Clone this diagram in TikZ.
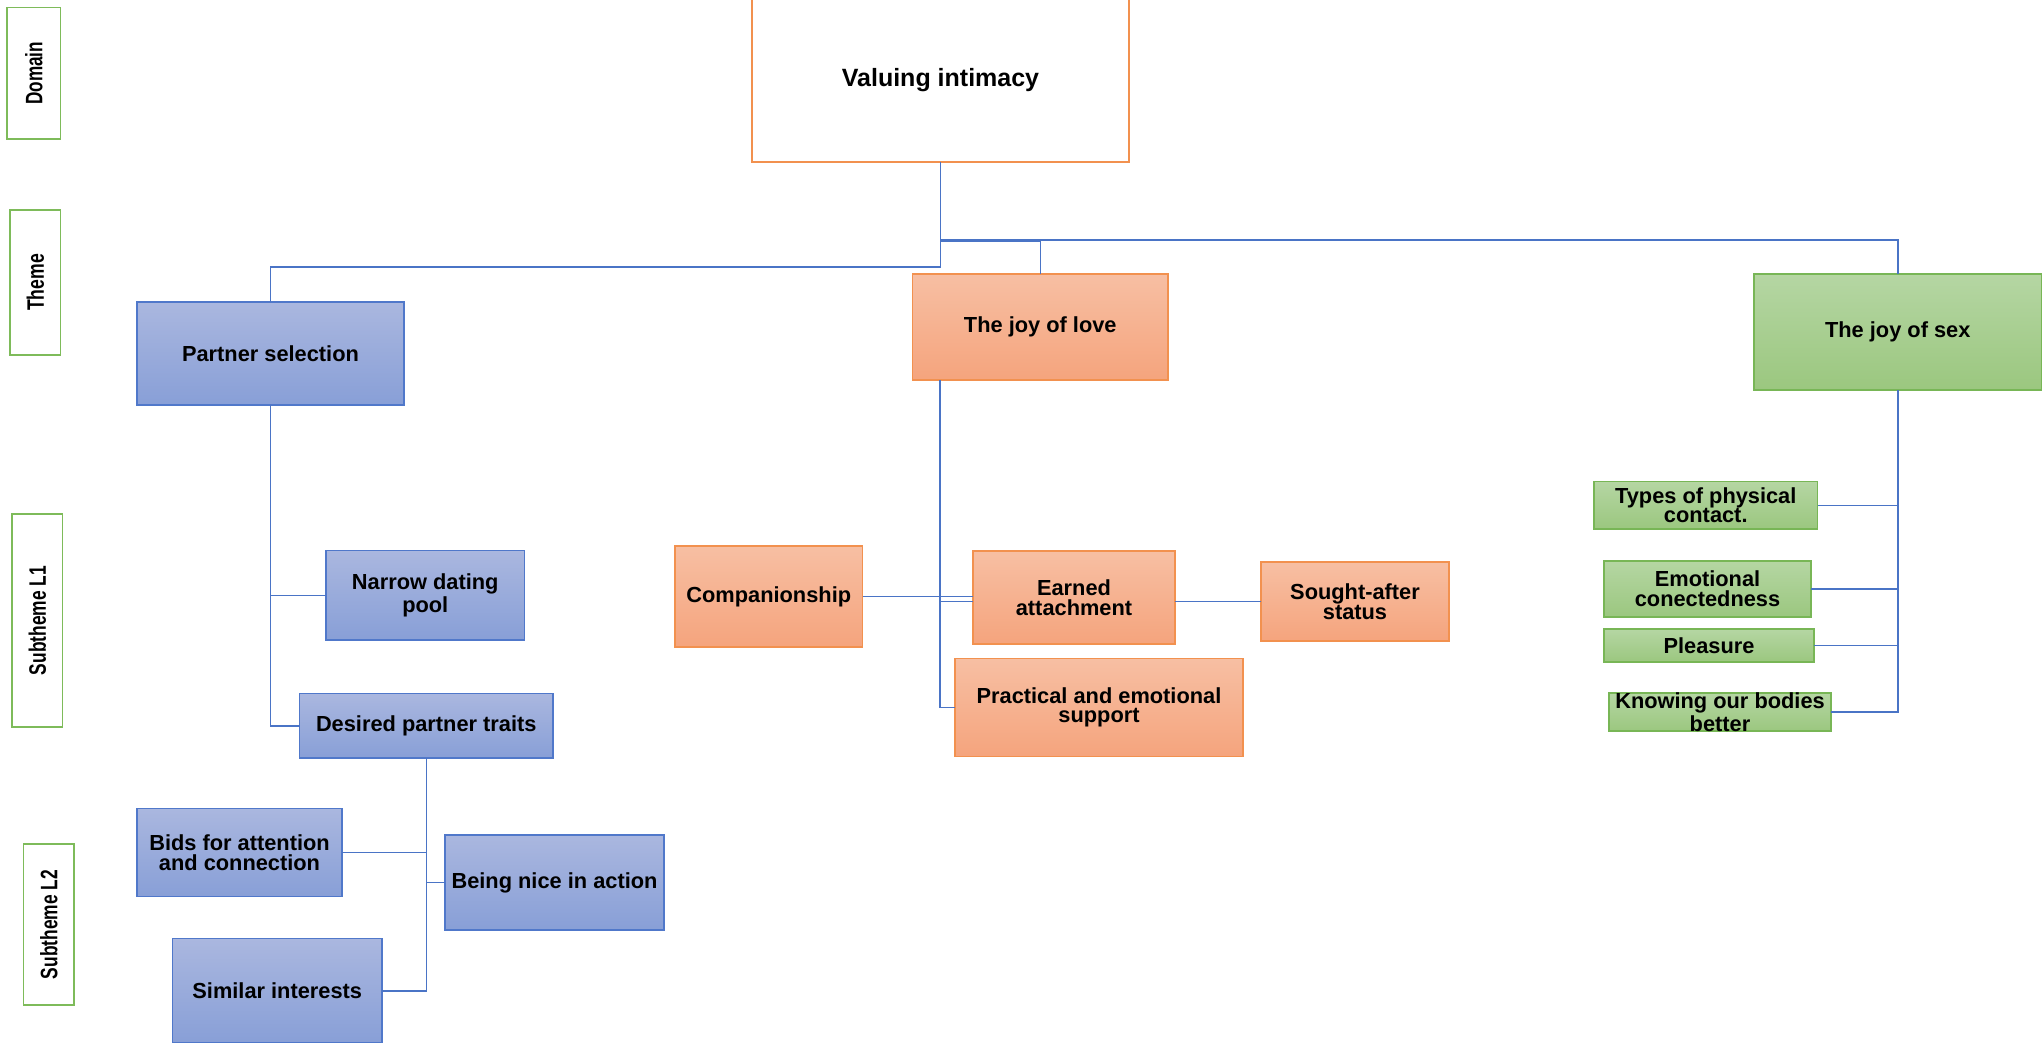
\documentclass[tikz,border=0pt]{standalone}
\usepackage{fontspec}
\setmainfont{Liberation Sans}
\usepackage{graphicx}
\usetikzlibrary{calc}

\definecolor{lineblue}{HTML}{4A74C6}
\definecolor{bluetop}{HTML}{AAB7DF}
\definecolor{bluebot}{HTML}{889FD7}
\definecolor{blueedge}{HTML}{5078CA}
\definecolor{orgtop}{HTML}{F7BFA3}
\definecolor{orgbot}{HTML}{F5A47D}
\definecolor{orgedge}{HTML}{F2914F}
\definecolor{grntop}{HTML}{B5D6A3}
\definecolor{grnbot}{HTML}{9BC77F}
\definecolor{grnedge}{HTML}{78B656}
\definecolor{lbledge}{HTML}{7EBB5A}

% box with corners (x1,y1)-(x2,y2) given in pixel units
\newcommand\bx[7]{%
  \node[#6, minimum width={(#4-#2)*0.5pt}, minimum height={(#5-#3)*0.5pt}]
    (#1) at ({(#2+#4)/2},{(#3+#5)/2}) {#7};}

\begin{document}
\begin{tikzpicture}[x=0.5pt,y=-0.5pt,
  basebox/.style={rectangle, inner sep=0pt, outer sep=0pt, line width=0.9pt,
    align=center, font=\fontsize{10.9pt}{9.8pt}\selectfont\bfseries},
  bluebox/.style={basebox, draw=blueedge, top color=bluetop, bottom color=bluebot},
  orgbox/.style={basebox, draw=orgedge, top color=orgtop, bottom color=orgbot},
  grnbox/.style={basebox, draw=grnedge, top color=grntop, bottom color=grnbot},
  rootbox/.style={basebox, draw=orgedge, fill=white,
    font=\fontsize{12.5pt}{14pt}\selectfont\bfseries},
  lblbox/.style={rectangle, inner sep=0pt, outer sep=0pt, line width=0.9pt,
    draw=lbledge, fill=white},
  lbltext/.style={rotate=90, inner sep=0pt, font=\fontsize{11.9pt}{12pt}\selectfont\bfseries},
  conn/.style={draw=lineblue, line width=0.75pt}
]
\useasboundingbox (0,0) rectangle (2044,1043);

% level labels
\bx{ldom}{7}{7.5}{60.5}{139}{lblbox}{}
\node[lbltext] (tdom) at (ldom.center) {\scalebox{0.72}[1]{Domain}};
\bx{lthm}{10}{210}{60.5}{355}{lblbox}{}
\node[lbltext] (tthm) at (lthm.center) {\scalebox{0.74}[1]{Theme}};
\bx{lsub1}{12}{514}{62.5}{727}{lblbox}{}
\node[lbltext] (tsub1) at (lsub1.center) {\scalebox{0.73}[1]{Subtheme L1}};
\bx{lsub2}{23.5}{844}{74}{1005}{lblbox}{}
\node[lbltext] (tsub2) at (lsub2.center) {\scalebox{0.73}[1]{Subtheme L2}};

% domain
\bx{vi}{752}{-2}{1129}{162}{rootbox}{Valuing intimacy}

% themes
\bx{ps}{137}{302}{404}{405}{bluebox}{Partner selection}
\bx{jol}{912.5}{274}{1168}{380}{orgbox}{The joy of love}
\bx{jos}{1754}{274}{2041.5}{390}{grnbox}{The joy of sex}

% partner selection branch
\bx{ndp}{326}{550.5}{524.5}{640}{bluebox}{Narrow dating\\pool}
\bx{dpt}{299.5}{693.5}{553}{758}{bluebox}{Desired partner traits}
\bx{bids}{137}{808.5}{342}{896.5}{bluebox}{Bids for attention\\and connection}
\bx{bn}{445}{835}{664}{930}{bluebox}{Being nice in action}
\bx{si}{172.5}{938.5}{382}{1043}{bluebox}{Similar interests}

% joy of love branch
\bx{comp}{675}{546}{862.5}{647}{orgbox}{Companionship}
\bx{ea}{973}{551}{1175}{644}{orgbox}{Earned\\attachment}
\bx{sas}{1261}{562}{1449}{641}{orgbox}{Sought-after\\status}
\bx{pes}{955}{658.5}{1243}{756.5}{orgbox}{Practical and emotional\\support}

% joy of sex branch
\bx{tpc}{1594}{481.5}{1817.5}{529}{grnbox}{Types of physical\\contact.}
\bx{emo}{1604}{561}{1811}{617}{grnbox}{Emotional\\conectedness}
\bx{plea}{1604}{629}{1814}{662}{grnbox}{Pleasure}
\bx{kob}{1609}{693.5}{1831}{730.5}{grnbox}{Knowing our bodies\\better}

% connectors: domain to themes
\coordinate (hubA) at ($(vi.south)+(0,78)$);
\coordinate (hubB) at ($(vi.south)+(0,105)$);
\draw[conn] (vi.south) -- (hubB) -| (ps.north);
\draw[conn] (hubA) -| (jos.north);
\draw[conn] (hubA) -| (jol.north);
\draw[conn] ($(hubA)+(0,1.5)$) -- ($(hubA)+(100,1.5)$);

% connectors: partner selection
\draw[conn] (ps.south) |- (dpt.west);
\draw[conn] (ps.south |- ndp.west) -- (ndp.west);
\draw[conn] (dpt.south) |- (si.east);
\draw[conn] (dpt.south |- bids.east) -- (bids.east);
\draw[conn] (dpt.south |- bn.west) -- (bn.west);

% connectors: joy of love
\coordinate (trunk) at ($(jol.south west)+(27.5,0)$);
\draw[conn] (trunk) |- (pes.west);
\draw[conn] (comp.east) -- (comp.east -| ea.west);
\draw[conn] ([yshift=-2pt]ea.west) -- ([yshift=-2pt]ea.west -| trunk);
\draw[conn] (sas.west) -- (sas.west -| ea.east);

% connectors: joy of sex
\draw[conn] (jos.south) |- (kob.east);
\draw[conn] (jos.south |- tpc.east) -- (tpc.east);
\draw[conn] (jos.south |- emo.east) -- (emo.east);
\draw[conn] (jos.south |- plea.east) -- (plea.east);
\end{tikzpicture}
\end{document}
